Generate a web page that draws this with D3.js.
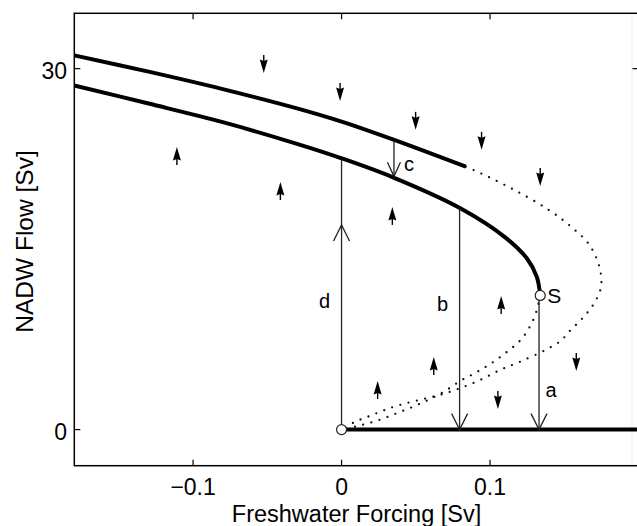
<!DOCTYPE html>
<html>
<head>
<meta charset="utf-8">
<script src="https://cdn.jsdelivr.net/npm/d3@7"></script>
<style>
  body { margin: 0; background: #fff; }
  svg { display: block; }
  text { font-family: "Liberation Sans", Arial, Helvetica, sans-serif; fill: #000; }
</style>
</head>
<body>
<svg id="chart" width="637" height="526"></svg>
<script>
// Stable "on" branch (upper thick curve), [forcing Sv, NADW Sv]
const upperStable = [[-0.18, 31.1], [-0.13, 29.75], [-0.08, 28.3], [-0.03, 26.7], [0, 25.6], [0.035, 24.1], [0.0837, 21.85]];
// Stable "on" branch ending at the saddle-node S
const lowerStable = [[-0.18, 28.6], [-0.13, 27.1], [-0.08, 25.55], [-0.03, 23.75], [0, 22.55], [0.035, 20.95], [0.08, 18.4], [0.11, 16.0], [0.125, 14.2], [0.1315, 12.7], [0.1338, 11.15]];
// Unstable branch continuing the upper curve round to the origin
const upperUnstable = [[0.0837, 21.85], [0.0938, 21.3], [0.1163, 19.92], [0.1388, 18.32], [0.1545, 16.87], [0.1669, 15.35], [0.1736, 13.55], [0.1748, 11.89], [0.1702, 10.51], [0.1624, 9.27], [0.1534, 8.16], [0.1478, 7.39], [0.1377, 6.64], [0.1208, 5.67], [0.1073, 4.98], [0.0938, 4.15], [0.0803, 3.46], [0.0668, 2.9], [0.0533, 2.49], [0.0398, 2.07], [0.0297, 1.66], [0.0196, 1.16], [0.0094, 0.66], [0, 0]];
// Unstable branch from S down to the origin
const saddleUnstable = [[0.1338, 11.15], [0.1316, 9.96], [0.1275, 8.71], [0.1208, 7.47], [0.1107, 6.39], [0.1005, 5.48], [0.0904, 4.73], [0.0803, 4.07], [0.0702, 3.24], [0.0601, 2.57], [0.0499, 1.99], [0.0398, 1.49], [0.0297, 1.0], [0.0196, 0.58], [0.0094, 0.25], [0, 0]];
// Stable "off" state
const offBranch = [[0, 0], [0.2, 0]];

// Special points: the origin and the saddle-node S
const pointNames = ["", "S"];
const pointX = [0, 0.1338];
const pointY = [0, 11.15];

// Transitions: label, forcing, start flow, end flow, arrow tip flow, label height
const jumpLabels = ["d", "c", "b", "a"];
const jumpX = [0, 0.0353, 0.0795, 0.133];
const jumpFrom = [0, 24.0, 18.4, 11.15];
const jumpTo = [22.45, 21.05, 0, 0];
const jumpTip = [17.0, 21.05, 0, 0];
const jumpLabelAt = [10.7, 22.1, 10.4, 3.3];

// Direction-field arrows
const fieldDown = [[-0.0524, 30.39], [-0.001, 28.06], [0.0499, 25.66], [0.0943, 24.0], [0.1338, 21.0], [0.1581, 5.62], [0.1053, 2.46]];
const fieldUp = [[-0.1109, 22.74], [-0.0412, 19.83], [0.0342, 17.76], [0.1075, 10.36], [0.0621, 5.29], [0.0243, 3.29]];

// Axes
const xTicks = [-0.1, 0, 0.1];
const yTicks = [0, 30];
const xDomain = [-0.18, 0.2];
const yDomain = [-3, 34.6];
const xTitle = "Freshwater Forcing [Sv]";
const yTitle = "NADW Flow [Sv]";

const svg = d3.select("#chart");
const pL = 74.3, pR = 638.5, pT = 13.3, pB = 465.7;
const x = d3.scaleLinear().domain(xDomain).range([pL, pR]);
const y = d3.scaleLinear().domain(yDomain).range([pB, pT]);

const line = d3.line().x(d => x(d[0])).y(d => y(d[1])).curve(d3.curveCatmullRom.alpha(0.5));

// faint vertical streak near the right border
svg.append("line").attr("x1", 632).attr("x2", 632).attr("y1", 18).attr("y2", 462)
  .attr("stroke", "#ececec").attr("stroke-width", 1);

// unstable branches (dotted)
[upperUnstable, saddleUnstable].forEach(d => {
  svg.append("path").attr("d", line(d)).attr("fill", "none")
    .attr("stroke", "#111").attr("stroke-width", 2.3)
    .attr("stroke-linecap", "round").attr("stroke-dasharray", "0,8.5");
});

// stable branches (thick)
[upperStable, lowerStable, offBranch].forEach(d => {
  svg.append("path").attr("d", line(d)).attr("fill", "none")
    .attr("stroke", "#000").attr("stroke-width", 4).attr("stroke-linecap", "butt");
});

// transitions with open arrowheads
jumpLabels.forEach((lab, i) => {
  const px = x(jumpX[i]);
  const g = svg.append("g");
  g.append("line").attr("x1", px).attr("x2", px)
    .attr("y1", y(jumpFrom[i])).attr("y2", y(jumpTo[i]))
    .attr("stroke", "#222").attr("stroke-width", 1.3);
  const up = jumpTo[i] > jumpFrom[i];
  const tip = y(jumpTip[i]);
  const s = up ? 1 : -1;
  const hw = lab === "c" ? 6.5 : 8, hh = lab === "c" ? 14 : 16;
  g.append("polyline")
    .attr("points", [[px - hw, tip + s * hh], [px, tip], [px + hw, tip + s * hh]].map(p => p.join(",")).join(" "))
    .attr("fill", "none").attr("stroke", "#222").attr("stroke-width", 1.3);
  const dx = (lab === "d" || lab === "b") ? -17 : (lab === "c" ? 15 : 12);
  g.append("text").attr("x", px + dx).attr("y", y(jumpLabelAt[i]))
    .attr("dy", "0.35em").attr("text-anchor", "middle")
    .attr("font-size", 20).text(lab);
});

// special points
pointNames.forEach((name, i) => {
  svg.append("circle").attr("cx", x(pointX[i])).attr("cy", y(pointY[i])).attr("r", 5)
    .attr("fill", "#fff").attr("stroke", "#222").attr("stroke-width", 1.2);
  if (name) {
    svg.append("text").attr("x", x(pointX[i]) + 7).attr("y", y(pointY[i]))
      .attr("dy", "0.36em").attr("font-size", 21).text(name);
  }
});

// direction-field arrows
function fieldArrow(d, dir) {
  const g = svg.append("g").attr("transform", `translate(${x(d[0])},${y(d[1])}) scale(1,${dir})`);
  g.append("line").attr("x1", 0).attr("x2", 0).attr("y1", -9).attr("y2", -3)
    .attr("stroke", "#000").attr("stroke-width", 1.4);
  g.append("path").attr("d", "M-4,-4.5 L0,-3 L4,-4.5 L0,9 Z").attr("fill", "#000");
}
fieldDown.forEach(d => fieldArrow(d, 1));
fieldUp.forEach(d => fieldArrow(d, -1));

// frame
svg.append("rect").attr("x", pL).attr("y", pT).attr("width", pR - pL).attr("height", pB - pT)
  .attr("fill", "none").attr("stroke", "#000").attr("stroke-width", 1.5);

// inward ticks on all four sides
const tl = 6;
xTicks.forEach(t => {
  svg.append("line").attr("x1", x(t)).attr("x2", x(t)).attr("y1", pB).attr("y2", pB - tl).attr("stroke", "#000").attr("stroke-width", 1.2);
  svg.append("line").attr("x1", x(t)).attr("x2", x(t)).attr("y1", pT).attr("y2", pT + tl).attr("stroke", "#000").attr("stroke-width", 1.2);
});
yTicks.forEach(t => {
  svg.append("line").attr("x1", pL).attr("x2", pL + tl).attr("y1", y(t)).attr("y2", y(t)).attr("stroke", "#000").attr("stroke-width", 1.2);
  svg.append("line").attr("x1", pR).attr("x2", pR - tl).attr("y1", y(t)).attr("y2", y(t)).attr("stroke", "#000").attr("stroke-width", 1.2);
});

// tick labels
const fmt = t => t === 0 ? "0" : d3.format(".1f")(t);
svg.selectAll(".xt").data(xTicks).enter().append("text")
  .attr("x", d => x(d)).attr("y", 495).attr("text-anchor", "middle")
  .attr("font-size", 23).text(fmt);
svg.selectAll(".yt").data(yTicks).enter().append("text")
  .attr("x", 67).attr("y", d => y(d) + 2).attr("dy", "0.36em").attr("text-anchor", "end")
  .attr("font-size", 23).text(d => d3.format("d")(d));

// axis titles
svg.append("text").attr("x", 356.5).attr("y", 521.5).attr("text-anchor", "middle")
  .attr("font-size", 23.5).text(xTitle);
svg.append("text").attr("transform", `translate(33,${(pT + pB) / 2 + 2}) rotate(-90)`)
  .attr("text-anchor", "middle").attr("font-size", 24.5).text(yTitle);
</script>
</body>
</html>
